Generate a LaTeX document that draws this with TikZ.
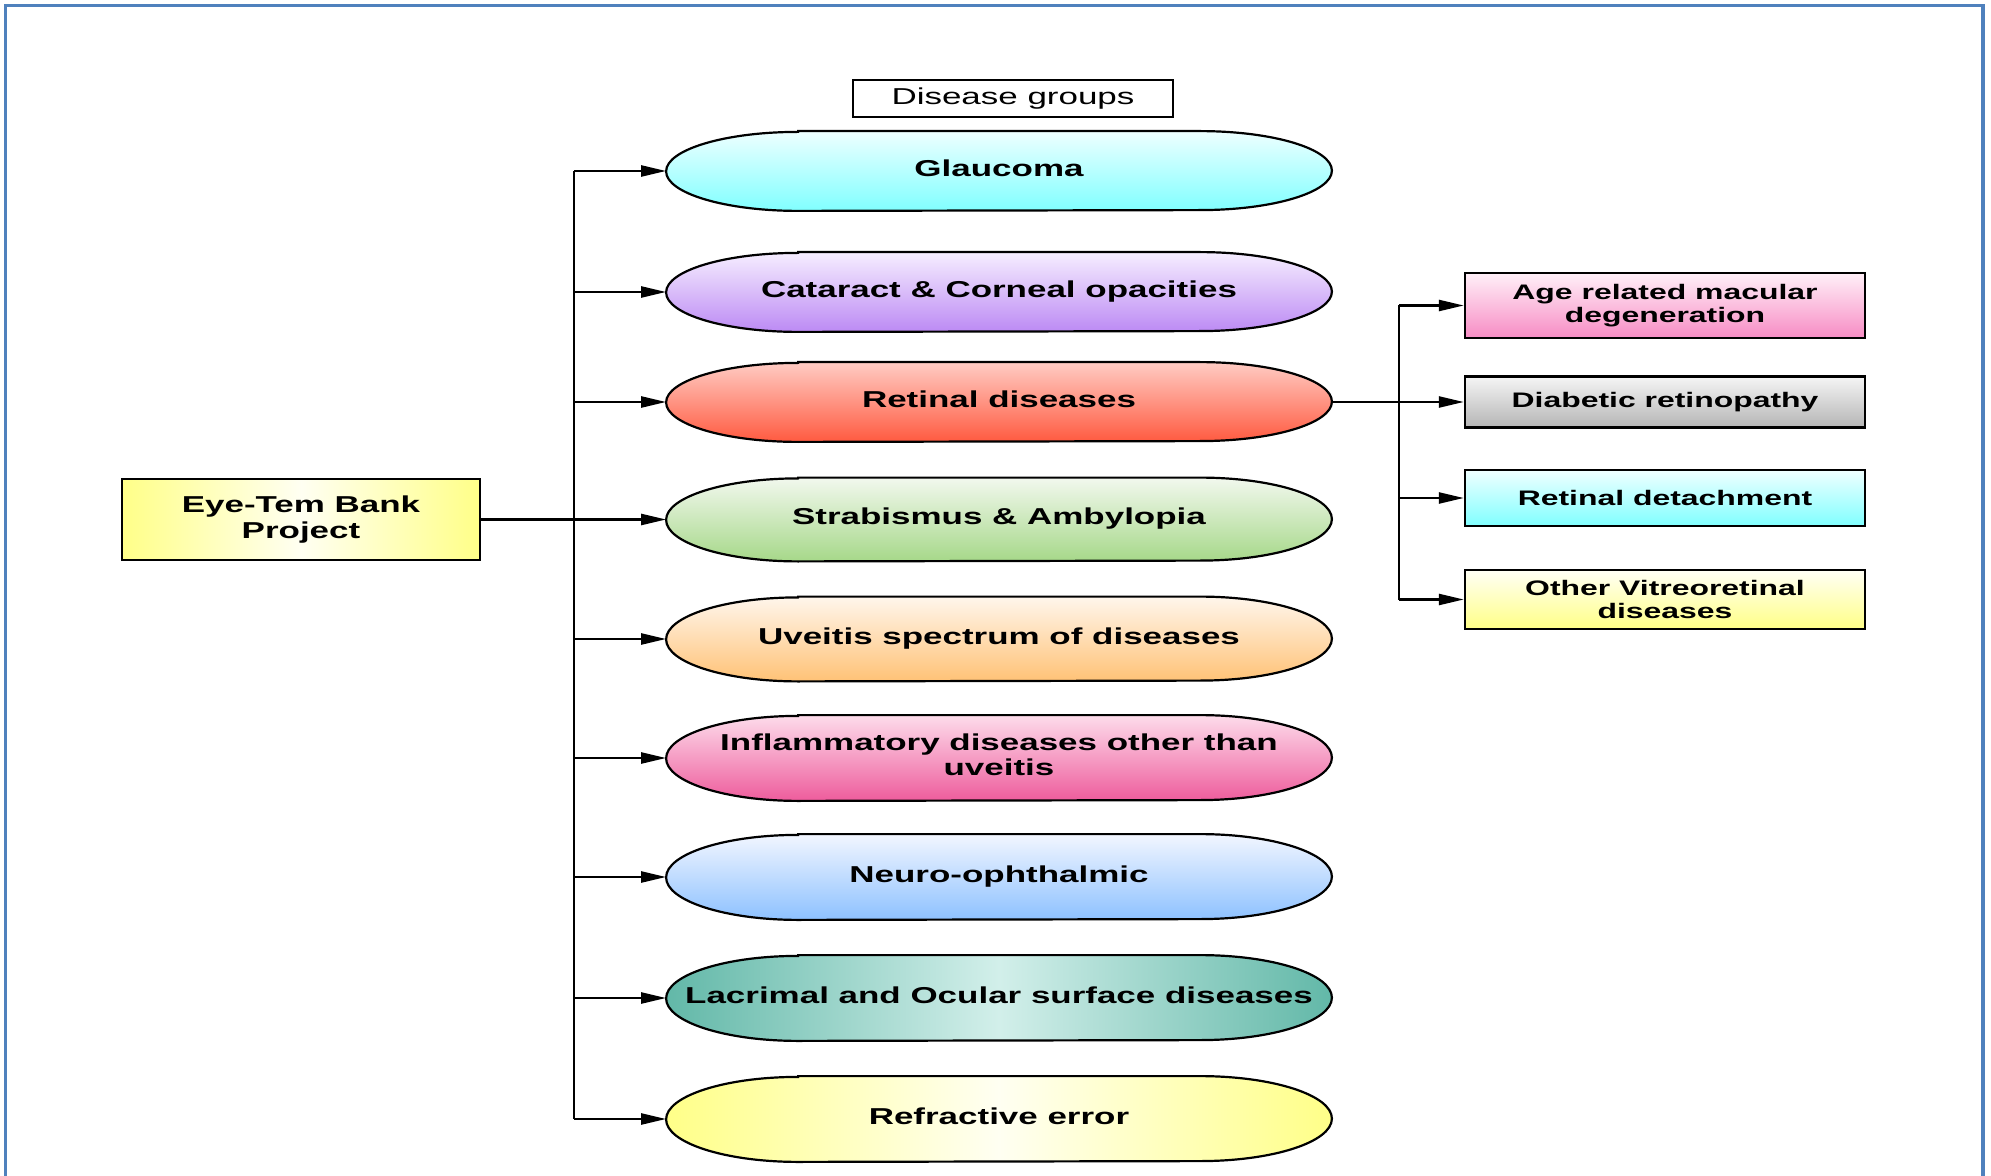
\documentclass[tikz,border=0pt]{standalone}
\usepackage{fontspec}
\setmainfont[FakeStretch=1.52]{Liberation Sans}
\usetikzlibrary{arrows.meta,backgrounds}
\newcommand{\ctrtext}[1]{\makebox[0pt][c]{\begin{tabular}{@{}c@{}}#1\end{tabular}}}
% capsule outline behind node #1, half height #2, shading #3
\newcommand{\capsule}[3]{%
  \begin{scope}[on background layer]
  \path[#3, draw=black, line width=1.1pt]
    ([xshift=66pt]#1.north west) -- ([xshift=-66pt]#1.north east)
    arc[start angle=90, end angle=-90, x radius=66pt, y radius=#2]
    -- ([xshift=66pt]#1.south west)
    arc[start angle=270, end angle=90, x radius=66pt, y radius=#2] -- cycle;
  \end{scope}}
\definecolor{frameblue}{HTML}{4F81BD}
\definecolor{glaT}{HTML}{EEFFFF}\definecolor{glaB}{HTML}{80FFFF}
\definecolor{catT}{HTML}{F6EEFF}\definecolor{catB}{HTML}{BC8AF4}
\definecolor{retT}{HTML}{FFCCC4}\definecolor{retB}{HTML}{FF5A40}
\definecolor{strT}{HTML}{F2F8EE}\definecolor{strB}{HTML}{A6D889}
\definecolor{uveT}{HTML}{FFF6EC}\definecolor{uveB}{HTML}{FFC276}
\definecolor{infT}{HTML}{FDDCEB}\definecolor{infB}{HTML}{EE5C9C}
\definecolor{neuT}{HTML}{F2F6FF}\definecolor{neuB}{HTML}{8DC1FF}
\definecolor{lacE}{HTML}{62B8A8}\definecolor{lacM}{HTML}{D2EFEA}
\definecolor{refE}{HTML}{FFFF88}\definecolor{refM}{HTML}{FFFFF2}
\definecolor{amdT}{HTML}{FFF0F8}\definecolor{amdB}{HTML}{F78CC4}
\definecolor{diaT}{HTML}{F5F5F5}\definecolor{diaB}{HTML}{B5B5B5}
\definecolor{rdT}{HTML}{F0FFFF}\definecolor{rdB}{HTML}{80FFFF}
\definecolor{othT}{HTML}{FFFFF6}\definecolor{othB}{HTML}{FFFF86}
\tikzset{
  ell/.style={rectangle, minimum width=332.5pt, inner sep=0pt,
    font=\bfseries\fontsize{11.5}{12.8}\selectfont},
  rbox/.style={rectangle, draw=black, line width=1.2pt, minimum width=200pt, inner sep=0pt,
    align=center, font=\bfseries\fontsize{10.5}{11.8}\selectfont},
  arr/.style={line width=1.2pt, -{Triangle[length=12.5pt,width=5.5pt]}},
  ln/.style={line width=1.2pt},
}
\begin{document}
\begin{tikzpicture}[x=0.5pt,y=-0.5pt]
\useasboundingbox (0,0) rectangle (1991,1176);
\draw[frameblue, line width=1.6pt] (5.5,1176) -- (5.5,5.5) -- (1983,5.5) -- (1983,1176);

\node[draw, line width=1.1pt, minimum width=160pt, minimum height=18.5pt, inner sep=0pt,
  font=\fontsize{11.5}{12.8}\selectfont] (dg) at (1013,98.5) {Disease groups};

\node[rectangle, draw, line width=1.2pt, minimum width=179pt, minimum height=40.5pt, inner sep=0pt,
  left color=refE, right color=refE, middle color=refM, align=center,
  font=\bfseries\fontsize{11.5}{12.8}\selectfont] (eye) at (301,519.5) {Eye-Tem Bank\\Project};

\node[ell, minimum height=39.5pt] (gla) at (999,171) {\ctrtext{Glaucoma}};
\node[ell, minimum height=39.5pt] (cat) at (999,292) {\ctrtext{Cataract \& Corneal opacities}};
\node[ell, minimum height=39.5pt] (ret) at (999,402) {\ctrtext{Retinal diseases}};
\node[ell, minimum height=41.5pt] (strab) at (999,519.5) {\ctrtext{Strabismus \& Ambylopia}};
\node[ell, minimum height=42pt] (uve) at (999,639) {\ctrtext{Uveitis spectrum of diseases}};
\node[ell, minimum height=42.5pt] (inf) at (999,758) {\ctrtext{Inflammatory diseases other than\\uveitis}};
\node[ell, minimum height=42.5pt] (neu) at (999,877) {\ctrtext{Neuro-ophthalmic}};
\node[ell, minimum height=42.5pt] (lac) at (999,998) {\ctrtext{Lacrimal and Ocular surface diseases}};
\node[ell, minimum height=42.5pt] (ref) at (999,1119) {\ctrtext{Refractive error}};

\capsule{gla}{19.75pt}{top color=glaT, bottom color=glaB}
\capsule{cat}{19.75pt}{top color=catT, bottom color=catB}
\capsule{ret}{19.75pt}{top color=retT, bottom color=retB}
\capsule{strab}{20.75pt}{top color=strT, bottom color=strB}
\capsule{uve}{21pt}{top color=uveT, bottom color=uveB}
\capsule{inf}{21.25pt}{top color=infT, bottom color=infB}
\capsule{neu}{21.25pt}{top color=neuT, bottom color=neuB}
\capsule{lac}{21.25pt}{left color=lacE, right color=lacE, middle color=lacM}
\capsule{ref}{21.25pt}{left color=refE, right color=refE, middle color=refM}

\node[rbox, minimum height=32.5pt, top color=amdT, bottom color=amdB] (amd) at (1665,305.5) {Age related macular\\degeneration};
\node[rbox, minimum height=25.5pt, top color=diaT, bottom color=diaB] (dia) at (1665,402) {Diabetic retinopathy};
\node[rbox, minimum height=28pt, top color=rdT, bottom color=rdB] (rd) at (1665,498) {Retinal detachment};
\node[rbox, minimum height=29.5pt, top color=othT, bottom color=othB] (oth) at (1665,599.5) {Other Vitreoretinal\\diseases};

\coordinate (tk) at (574,519.5);
\draw[ln] (tk |- gla.west) -- (tk |- ref.west);
\draw[arr] (eye.east) -- (strab.west);
\foreach \n in {gla,cat,ret,uve,inf,neu,lac,ref}
  \draw[arr] (tk |- \n.west) -- (\n.west);

\coordinate (rk) at (1399,402);
\draw[ln] (rk |- amd.west) -- (rk |- oth.west);
\draw[arr] (ret.east) -- (dia.west);
\foreach \n in {amd,rd,oth}
  \draw[arr] (rk |- \n.west) -- (\n.west);
\end{tikzpicture}
\end{document}
